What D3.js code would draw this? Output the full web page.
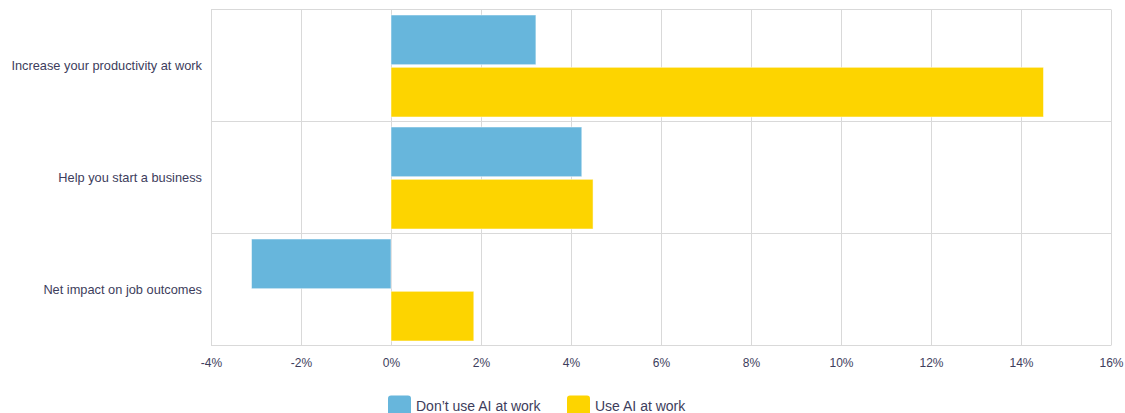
<!DOCTYPE html>
<html><head><meta charset="utf-8">
<script src="https://cdn.jsdelivr.net/npm/d3@7/dist/d3.min.js"></script>
<style>body{margin:0;background:#fff;} text{font-family:"Liberation Sans",Arial,sans-serif;}</style>
</head><body><svg id="c" width="1125" height="413"></svg>
<script>
const categories = ["Increase your productivity at work","Help you start a business","Net impact on job outcomes"];
const seriesNames = ["Don\u2019t use AI at work","Use AI at work"];
const dontUse = [3.22, 4.24, -3.1];
const useAI = [14.5, 4.49, 1.84];
const tickValues = [-4,-2,0,2,4,6,8,10,12,14,16];
const colors = ["#67b6dc","#fdd400"];

(function(){
const svg = d3.select("#c");
const pLeft = 211, pRight = 1111, pTop = 9.5, pBottom = 345.5;
const x = d3.scaleLinear().domain([-4,16]).range([pLeft,pRight]);
const y = d3.scaleBand().domain(categories).range([pTop,pBottom]);
const ySub = d3.scaleBand().domain([0,1]).range([5.5, y.bandwidth()-4.5]).paddingInner(0.05);
const textColor = "#3d3d5c";

// grid
svg.append("g").selectAll("line").data(tickValues).join("line")
  .attr("x1",d=>Math.round(x(d))+0.5).attr("x2",d=>Math.round(x(d))+0.5)
  .attr("y1",pTop).attr("y2",pBottom).attr("stroke","#d9d9d9").attr("stroke-width",1);
svg.append("g").selectAll("line").data([pTop, pTop+y.bandwidth(), pTop+2*y.bandwidth(), pBottom]).join("line")
  .attr("x1",pLeft).attr("x2",pRight).attr("y1",d=>d).attr("y2",d=>d)
  .attr("stroke","#d9d9d9").attr("stroke-width",1);

const seriesData = [dontUse, useAI];
seriesData.forEach((vals,si)=>{
  svg.append("g").selectAll("rect").data(vals).join("rect")
    .attr("x",(d)=>x(Math.min(0,d)))
    .attr("width",d=>Math.abs(x(d)-x(0)))
    .attr("y",(d,i)=>y(categories[i])+ySub(si))
    .attr("height",ySub.bandwidth())
    .attr("fill",colors[si])
    .attr("stroke","rgba(255,255,255,0.5)").attr("stroke-width",1);
});

// x axis labels
const xAxis = d3.axisBottom(x).tickValues(tickValues).tickSize(0).tickFormat(d=>d+"%");
const gx = svg.append("g").attr("transform",`translate(0,${pBottom})`).call(xAxis);
gx.select(".domain").remove();
gx.selectAll("text").attr("dy",0).attr("y",21).attr("font-size","12px").attr("fill",textColor)
  .style("font-family","'Liberation Sans',Arial,sans-serif");

// y axis labels
const yAxis = d3.axisLeft(y).tickSize(0).tickPadding(9);
const gy = svg.append("g").attr("transform",`translate(${pLeft},0)`).call(yAxis);
gy.select(".domain").remove();
gy.selectAll("text").attr("font-size","12.8px").attr("fill",textColor)
  .style("font-family","'Liberation Sans',Arial,sans-serif");

// legend
const legX = [388, 567];
const lg = svg.append("g");
seriesNames.forEach((n,i)=>{
  lg.append("rect").attr("x",legX[i]).attr("y",395.5).attr("width",23).attr("height",23)
    .attr("rx",3).attr("fill",colors[i]);
  lg.append("text").attr("x",legX[i]+28).attr("y",411).attr("font-size","14px")
    .attr("fill",textColor).text(n);
});
})();
</script></body></html>
